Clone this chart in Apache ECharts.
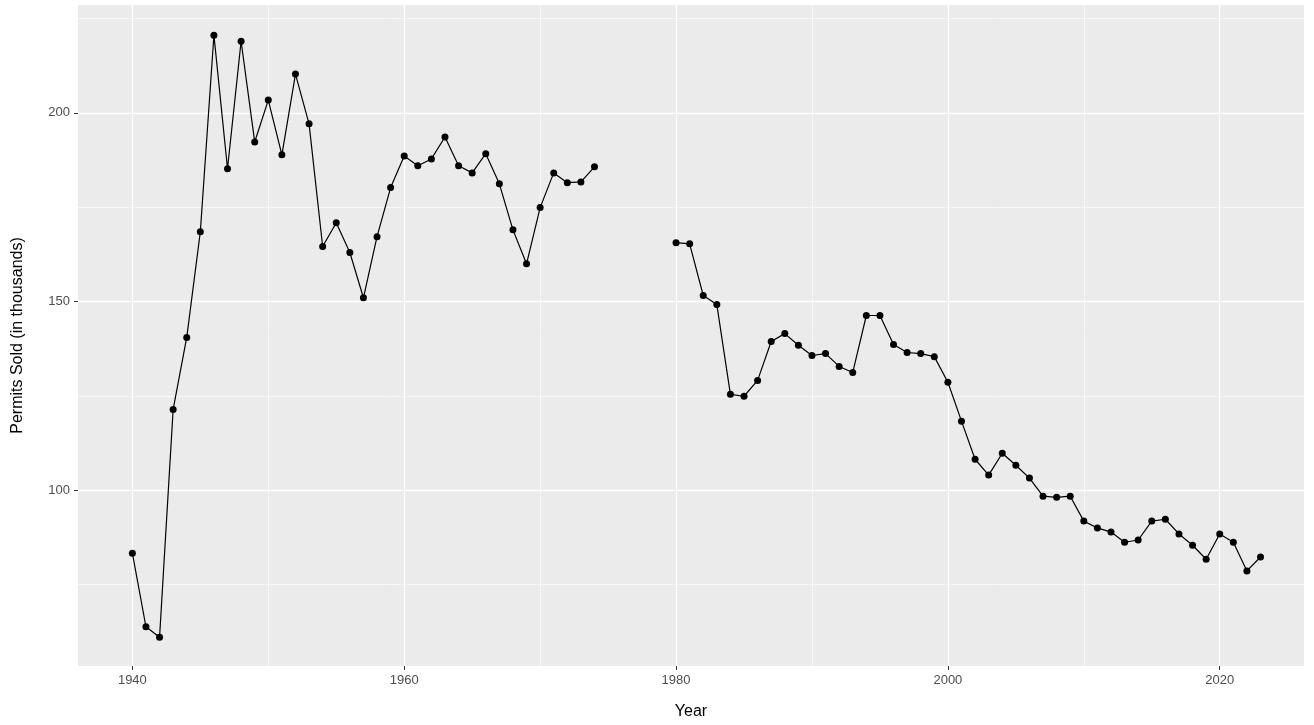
<!DOCTYPE html>
<html>
<head>
<meta charset="utf-8">
<script src="https://cdn.jsdelivr.net/npm/echarts@6/dist/echarts.min.js"></script>
<style>html,body{margin:0;padding:0;background:#fff}#chart{width:1314px;height:725px}</style>
</head>
<body>
<div id="chart"></div>
<script>
var years = [];
for (var y = 1940; y <= 2023; y++) years.push(y);
var permits = [
  83.3, 63.8, 61.0, 121.4, 140.5, 168.5, 220.6, 185.2, 219.0, 192.3,
  203.4, 188.9, 210.3, 197.1, 164.6, 170.9, 163.0, 151.0, 167.2, 180.2,
  188.6, 186.0, 187.8, 193.6, 186.0, 184.1, 189.2, 181.2, 169.0, 160.0,
  174.9, 184.1, 181.5, 181.7, 185.7, null, null, null, null, null,
  165.6, 165.3, 151.6, 149.2, 125.4, 124.9, 129.1, 139.4, 141.5, 138.4,
  135.7, 136.2, 132.8, 131.2, 146.3, 146.3, 138.6, 136.5, 136.2, 135.4,
  128.6, 118.3, 108.2, 104.0, 109.8, 106.6, 103.2, 98.4, 98.1, 98.4,
  91.8, 90.0, 88.9, 86.2, 86.8, 91.8, 92.3, 88.4, 85.4, 81.7,
  88.4, 86.2, 78.6, 82.3
];
var xTicks = [1940, 1960, 1980, 2000, 2020];
var xMinor = [1950, 1970, 1990, 2010];
var yTicks = [100, 150, 200];
var yMinor = [75, 125, 175, 225];

var points = years.map(function (yr, i) { return [yr, permits[i]]; });
var gridLines = [];
xTicks.forEach(function (v) { gridLines.push({ xAxis: v, lineStyle: { width: 1.3 } }); });
xMinor.forEach(function (v) { gridLines.push({ xAxis: v, lineStyle: { width: 0.6 } }); });
yTicks.forEach(function (v) { gridLines.push({ yAxis: v, lineStyle: { width: 1.3 } }); });
yMinor.forEach(function (v) { gridLines.push({ yAxis: v, lineStyle: { width: 0.6 } }); });

var chart = echarts.init(document.getElementById('chart'));
var textStyle = { color: '#4D4D4D', fontSize: 13, fontFamily: 'Liberation Sans' };
chart.setOption({
  animation: false,
  grid: { left: 78, right: 10, top: 5, bottom: 58, show: true, backgroundColor: '#EBEBEB', borderWidth: 0 },
  xAxis: {
    type: 'value', min: 1936, max: 2026.2,
    name: 'Year', nameLocation: 'middle', nameGap: 38,
    nameTextStyle: { color: '#000', fontSize: 16, fontFamily: 'Liberation Sans' },
    axisLine: { show: false },
    axisTick: { show: true, customValues: xTicks, length: 4, lineStyle: { color: '#333' } },
    axisLabel: Object.assign({ customValues: xTicks, margin: 8, formatter: function (v) { return v; } }, textStyle),
    splitLine: { show: false }
  },
  yAxis: {
    type: 'value', min: 53.4, max: 228.6,
    name: 'Permits Sold (in thousands)', nameLocation: 'middle', nameGap: 52, nameRotate: 90,
    nameTextStyle: { color: '#000', fontSize: 16, fontFamily: 'Liberation Sans' },
    axisLine: { show: false },
    axisTick: { show: true, customValues: yTicks, length: 4, lineStyle: { color: '#333' } },
    axisLabel: Object.assign({ customValues: yTicks, margin: 8 }, textStyle),
    splitLine: { show: false }
  },
  series: [{
    type: 'line',
    data: points,
    connectNulls: false,
    symbol: 'circle',
    symbolSize: 7,
    itemStyle: { color: '#000' },
    lineStyle: { color: '#000', width: 1.2 },
    z: 5,
    markLine: {
      silent: true, symbol: 'none', label: { show: false },
      lineStyle: { color: '#fff', type: 'solid' },
      data: gridLines,
      z: 1
    }
  }]
});
</script>
</body>
</html>
